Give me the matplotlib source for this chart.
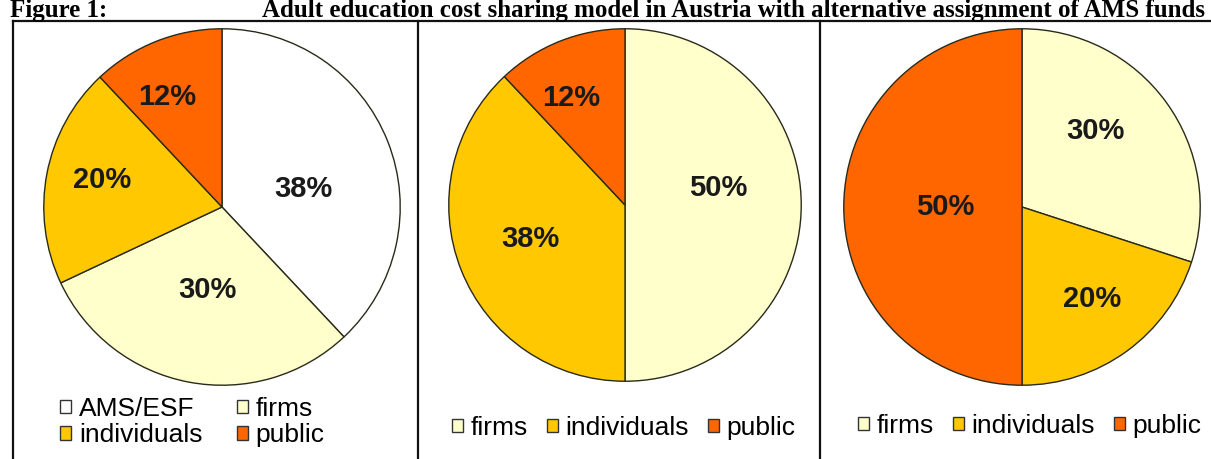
import matplotlib
matplotlib.use("Agg")
import matplotlib.pyplot as plt
from matplotlib.patches import Patch
from matplotlib.lines import Line2D
import numpy as np

W, H = 1211, 459
DPI = 100

title_prefix = "Figure 1:"
title_text = "Adult education cost sharing model in Austria with alternative assignment of AMS funds"

colors = {"AMS/ESF": "#FFFFFF", "firms": "#FFFFCC", "individuals": "#FFC800", "public": "#FF6600"}

# Panel 1
p1_labels = ["AMS/ESF", "firms", "individuals", "public"]
p1_values = [38, 30, 20, 12]
# Panel 2
p2_labels = ["firms", "individuals", "public"]
p2_values = [50, 38, 12]
# Panel 3
p3_labels = ["firms", "individuals", "public"]
p3_values = [30, 20, 50]

# style: per-slice label distance (fraction of radius) and clockwise angle offset (deg)
p1_dist = [0.47, 0.47, 0.69, 0.69]
p1_off = [9, -1, 2, -5]
p2_dist = [0.54, 0.57, 0.68]
p2_off = [-10, 2, -5]
p3_dist = [0.59, 0.65, 0.43]
p3_off = [-10, -1.5, 0]

fig = plt.figure(figsize=(W / DPI, H / DPI), dpi=DPI)
fig.patch.set_facecolor("white")

def fx(px):
    return px / W

def fy(py):
    return 1 - py / H

label_font = dict(family=["Liberation Sans", "DejaVu Sans"], fontweight="bold", fontsize=21, color="#1a1a1a")

def draw_pie(cx, cy, r, labels, values, dists, offs):
    ax = fig.add_axes([fx(cx - r), fy(cy + r), (2 * r) / W, (2 * r) / H])
    wedges, _ = ax.pie(values, colors=[colors[l] for l in labels], startangle=90,
                       counterclock=False, radius=1,
                       wedgeprops=dict(edgecolor="#2a2a1a", linewidth=1.0))
    for w, v, d, o in zip(wedges, values, dists, offs):
        ang = np.deg2rad((w.theta1 + w.theta2) / 2 - o)
        ax.text(d * np.cos(ang), d * np.sin(ang), f"{v}%", ha="center", va="center", **label_font)
    ax.set_xlim(-1.01, 1.01)
    ax.set_ylim(-1.01, 1.01)
    ax.axis("off")
    return ax, wedges

draw_pie(222, 207, 180, p1_labels, p1_values, p1_dist, p1_off)
draw_pie(625, 205, 178, p2_labels, p2_values, p2_dist, p2_off)
draw_pie(1022, 207, 180, p3_labels, p3_values, p3_dist, p3_off)

def handles(labels):
    return [Patch(facecolor=colors[l], edgecolor="#333333", linewidth=1.0, label=l) for l in labels]

leg_kw = dict(frameon=False, prop=dict(family="Liberation Sans", size=19),
              handlelength=0.42, handleheight=0.42, handletextpad=0.3,
              borderaxespad=0, borderpad=0, labelspacing=0.08)

# legend 1: two columns, row-wise AMS/ESF, firms / individuals, public
order1 = ["AMS/ESF", "individuals", "firms", "public"]
fig.legend(handles=handles(order1), labels=order1, ncol=2, loc="upper left",
           bbox_to_anchor=(fx(60), fy(397)), columnspacing=1.3, **leg_kw)
fig.legend(handles=handles(p2_labels), labels=p2_labels, ncol=3, loc="upper left",
           bbox_to_anchor=(fx(452), fy(416)), columnspacing=0.7, **leg_kw)
fig.legend(handles=handles(p3_labels), labels=p3_labels, ncol=3, loc="upper left",
           bbox_to_anchor=(fx(858), fy(414)), columnspacing=0.7, **leg_kw)

# frame lines
top = 21
line_kw = dict(color="#111111", linewidth=1.6, transform=fig.transFigure)
fig.add_artist(Line2D([fx(13), 1.0], [fy(top), fy(top)], **line_kw))
for x in [13, 418, 820]:
    fig.add_artist(Line2D([fx(x), fx(x)], [fy(top), 0], **line_kw))

# title
tfont = dict(family="Liberation Serif", fontweight="bold", fontsize=18, va="baseline", color="black")
fig.text(fx(10), fy(17), title_prefix, **tfont)
fig.text(fx(262), fy(17), title_text, **tfont)

fig.savefig("out.png", dpi=DPI, facecolor="white")
